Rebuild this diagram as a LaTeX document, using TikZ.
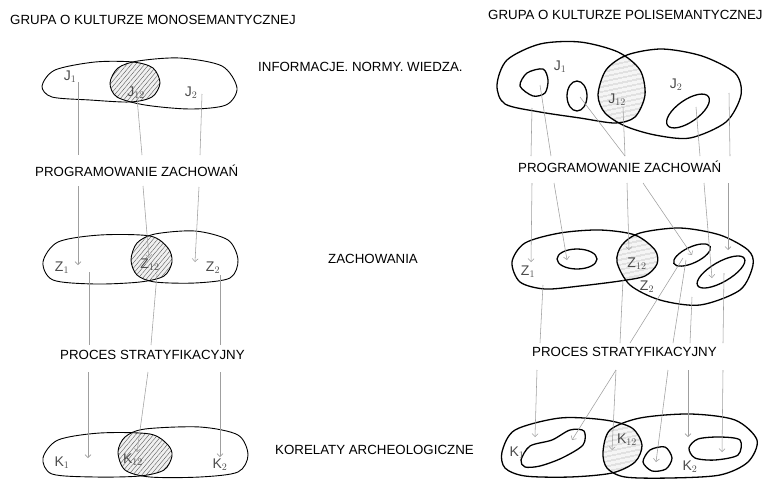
\documentclass[tikz,border=0pt]{standalone}
\usepackage{fontspec}
\setmainfont{Liberation Sans}
\usetikzlibrary{patterns.meta,arrows.meta}
\begin{document}
\begin{tikzpicture}[x=1pt,y=-1pt,
  lbl/.style={font=\fontsize{13.3}{14}\selectfont, inner sep=0pt, anchor=west},
  blobL/.style={draw=black, line width=0.9pt},
  blobR/.style={draw=black, line width=1.3pt},
  conn/.style={draw=gray!75, line width=0.55pt},
  arr/.style={conn, -{Straight Barb[length=3pt,width=6pt]}},
  hw/.style={inner sep=0pt, text=black!70, font=\fontsize{14}{14}\selectfont},
  hatchL/.style={fill=gray!12, postaction={pattern={Lines[angle=50,distance=3.4pt,line width=0.4pt]}, pattern color=black!65}},
  hatchR/.style={fill=gray!8, postaction={pattern={Lines[angle=12,distance=4pt,line width=0.45pt]}, pattern color=black!65}},
]
\fill[white] (0,0) rectangle (764,480);
\useasboundingbox (0,0) rectangle (764,480);

% ---------- texts ----------
\node[lbl] (t1) at (10,20) {GRUPA O KULTURZE MONOSEMANTYCZNEJ};
\node[lbl] (t2) at (488,15) {GRUPA O KULTURZE POLISEMANTYCZNEJ};
\node[lbl] (t3) at (258,67) {INFORMACJE. NORMY. WIEDZA.};
\node[lbl] (pL) at (35,171) {PROGRAMOWANIE ZACHOWAŃ};
\node[lbl] (pR) at (518,167) {PROGRAMOWANIE ZACHOWAŃ};
\node[lbl] (zach) at (328,259) {ZACHOWANIA};
\node[lbl] (sL) at (60,355) {PROCES STRATYFIKACYJNY};
\node[lbl] (sR) at (532,352) {PROCES STRATYFIKACYJNY};
\node[lbl] (kor) at (275,450) {KORELATY ARCHEOLOGICZNE};

% ---------- blob outlines ----------
\def\LJa{plot[smooth cycle] coordinates {(42,86) (55,70) (95,62) (133,62) (153,68) (160,83) (152,97) (130,102) (90,100) (52,97)}}
\def\LJb{plot[smooth cycle] coordinates {(110,83) (118,68) (138,61) (180,58) (222,66) (237,88) (226,105) (190,109) (145,105) (117,97)}}
\def\LZa{plot[smooth cycle] coordinates {(43,262) (58,242) (100,235) (150,236) (168,248) (172,262) (164,276) (140,282) (95,284) (53,280)}}
\def\LZb{plot[smooth cycle] coordinates {(131,260) (137,243) (155,234) (195,231) (228,240) (238,260) (230,278) (195,283) (155,282) (137,275)}}
\def\LKa{plot[smooth cycle] coordinates {(43,458) (58,440) (100,433) (150,434) (168,445) (172,456) (164,470) (140,476) (95,477) (52,474)}}
\def\LKb{plot[smooth cycle] coordinates {(118,452) (125,437) (145,429) (200,427) (238,435) (248,455) (238,472) (200,477) (150,477) (125,470)}}
\def\RJa{plot[smooth cycle] coordinates {(497,85) (507,60) (540,44) (580,42) (618,52) (640,70) (645,95) (635,117) (615,123) (580,118) (540,112) (505,104)}}
\def\RJb{plot[smooth cycle] coordinates {(598,95) (606,70) (627,55) (662,49) (702,56) (735,73) (741,95) (726,122) (690,138) (655,135) (625,126) (605,113)}}
\def\RZa{plot[smooth cycle] coordinates {(512,262) (525,243) (560,233) (600,230) (635,235) (655,250) (657,264) (645,276) (620,281) (580,286) (545,289) (520,282)}}
\def\RZb{plot[smooth cycle] coordinates {(617,262) (622,245) (640,233) (680,228) (720,235) (748,250) (753,265) (740,290) (700,305) (660,300) (630,285)}}
\def\RKa{plot[smooth cycle] coordinates {(502,452) (515,430) (560,418) (605,420) (632,428) (642,445) (635,462) (612,473) (570,477) (525,476) (505,468)}}
\def\RKb{plot[smooth cycle] coordinates {(603,452) (610,430) (640,418) (690,414) (735,420) (757,440) (748,462) (720,475) (670,478) (625,477) (607,468)}}

% hatched intersections
\begin{scope}\clip \LJa; \path[hatchL] \LJb; \end{scope}
\begin{scope}\clip \LZa; \path[hatchL] \LZb; \end{scope}
\begin{scope}\clip \LKa; \path[hatchL] \LKb; \end{scope}
\begin{scope}\clip \RJa; \path[hatchR] \RJb; \end{scope}
\begin{scope}\clip \RZa; \path[hatchR] \RZb; \end{scope}
\begin{scope}\clip \RKa; \path[hatchR] \RKb; \end{scope}

\draw[blobL] \LJa; \draw[blobL] \LJb;
\draw[blobL] \LZa; \draw[blobL] \LZb;
\draw[blobL] \LKa; \draw[blobL] \LKb;
\draw[blobR] \RJa; \draw[blobR] \RJb;
\draw[blobR] \RZa; \draw[blobR] \RZb;
\draw[blobR] \RKa; \draw[blobR] \RKb;

% inner blobs (right group)
\draw[blobR] plot[smooth cycle] coordinates {(520,86) (527,73) (543,69) (548,80) (545,93) (533,96)};
\draw[blobR] (577,96) ellipse [x radius=10, y radius=15];
\draw[blobR] (688,111) ellipse [x radius=25, y radius=11, rotate=35];
\draw[blobR] (577,259) ellipse [x radius=20, y radius=10];
\draw[blobR] (692,255) ellipse [x radius=20, y radius=8, rotate=25];
\draw[blobR] (721,272) ellipse [x radius=27, y radius=10, rotate=30];
\draw[blobR] plot[smooth cycle] coordinates {(521,460) (530,446) (552,440) (570,430) (584,431) (583,445) (562,458) (540,466) (525,467)};
\draw[blobR] plot[smooth cycle] coordinates {(643,462) (650,450) (665,447) (672,458) (666,469) (652,471)};
\draw[blobR] plot[smooth cycle] coordinates {(689,448) (698,439) (720,437) (740,440) (738,455) (715,460) (695,458)};

% ---------- handwritten labels ----------
\node[hw] (lj1) at (70,77) {$\mathrm{J}_1$};
\node[hw] (lj12) at (136,93) {$\mathrm{J}_{12}$};
\node[hw] (lj2) at (191,93) {$\mathrm{J}_2$};
\node[hw] (lz1) at (62,268) {$\mathrm{Z}_1$};
\node[hw] (lz12) at (150,265) {$\mathrm{Z}_{12}$};
\node[hw] (lz2) at (213,268) {$\mathrm{Z}_2$};
\node[hw] (lk1) at (62,463) {$\mathrm{K}_1$};
\node[hw] (lk12) at (133,460) {$\mathrm{K}_{12}$};
\node[hw] (lk2) at (220,465) {$\mathrm{K}_2$};
\node[hw] (rj1) at (560,67) {$\mathrm{J}_1$};
\node[hw] (rj12) at (617,100) {$\mathrm{J}_{12}$};
\node[hw] (rj2) at (676,85) {$\mathrm{J}_2$};
\node[hw] (rz1) at (528,272) {$\mathrm{Z}_1$};
\node[hw] (rz12) at (637,264) {$\mathrm{Z}_{12}$};
\node[hw] (rz2) at (647,287) {$\mathrm{Z}_2$};
\node[hw] (rk1) at (517,453) {$\mathrm{K}_1$};
\node[hw] (rk12) at (627,440) {$\mathrm{K}_{12}$};
\node[hw] (rk2) at (690,467) {$\mathrm{K}_2$};

% ---------- connector end points ----------
\foreach \n/\x/\y in {
  a1/78/82, a2/78/155, a3/78/186, a4/78/265,
  b1/137/98, b2/142/155, b3/143/186, b4/149/258,
  c1/202/94, c2/200/155, c3/199/187, c4/195/262,
  d1/89/272, d2/89/345, d3/88/372, d4/88/458,
  e1/157/274, e2/151/345, e3/148/372, e4/137/452,
  f1/220/275, f2/220/345, f3/220/372, f4/220/457,
  g1/532/108, g2/531/156, g3/532/183, g4/531/262,
  h1/540/85, h2/551/156, h3/554/183, h4/567/260,
  i1/580/97, i2/625/156, i3/627/183, i4/629/250,
  j1/623/107,
  k1/696/107, k2/700/156, k3/704/183, k4/712/278,
  l1/729/93, l2/730/156, l3/728/183, l4/728/250,
  m3/643/183, m4/692/255,
  n1/543/285, n2/540/343, n3/537/370, n4/535/437,
  o1/623/280, o2/620/343, o3/616/370, o4/572/440, o5/612/450,
  p1/683/258, p2/630/343,
  q1/686/260, q2/673/343, q3/668/370, q4/656/462,
  r1/692/297, r2/690/343, r3/688/370, r4/688/437,
  s1/724/273, s2/723/343, s3/723/370, s4/722/452}
  {\coordinate (\n) at (\x,\y);}

% ---------- connectors (left group) ----------
\draw[conn] (a1) -- (a2); \draw[arr] (a3) -- (a4);
\draw[conn] (b1) -- (b2); \draw[arr] (b3) -- (b4);
\draw[conn] (c1) -- (c2); \draw[arr] (c3) -- (c4);
\draw[conn] (d1) -- (d2); \draw[arr] (d3) -- (d4);
\draw[conn] (e1) -- (e2); \draw[arr] (e3) -- (e4);
\draw[conn] (f1) -- (f2); \draw[arr] (f3) -- (f4);

% ---------- connectors (right group) ----------
\draw[conn] (g1) -- (g2); \draw[arr] (g3) -- (g4);
\draw[conn] (h1) -- (h2); \draw[arr] (h3) -- (h4);
\draw[conn] (i1) -- (i2); \draw[arr] (i3) -- (i4);
\draw[conn] (j1) -- (i2);
\draw[conn] (k1) -- (k2); \draw[arr] (k3) -- (k4);
\draw[conn] (l1) -- (l2); \draw[arr] (l3) -- (l4);
\draw[arr] (m3) -- (m4);
\draw[conn] (n1) -- (n2); \draw[arr] (n3) -- (n4);
\draw[conn] (o1) -- (o2); \draw[arr] (o3) -- (o4); \draw[arr] (o3) -- (o5);
\draw[conn] (p1) -- (p2);
\draw[conn] (q1) -- (q2); \draw[arr] (q3) -- (q4);
\draw[conn] (r1) -- (r2); \draw[arr] (r3) -- (r4);
\draw[conn] (s1) -- (s2); \draw[arr] (s3) -- (s4);
\end{tikzpicture}
\end{document}
